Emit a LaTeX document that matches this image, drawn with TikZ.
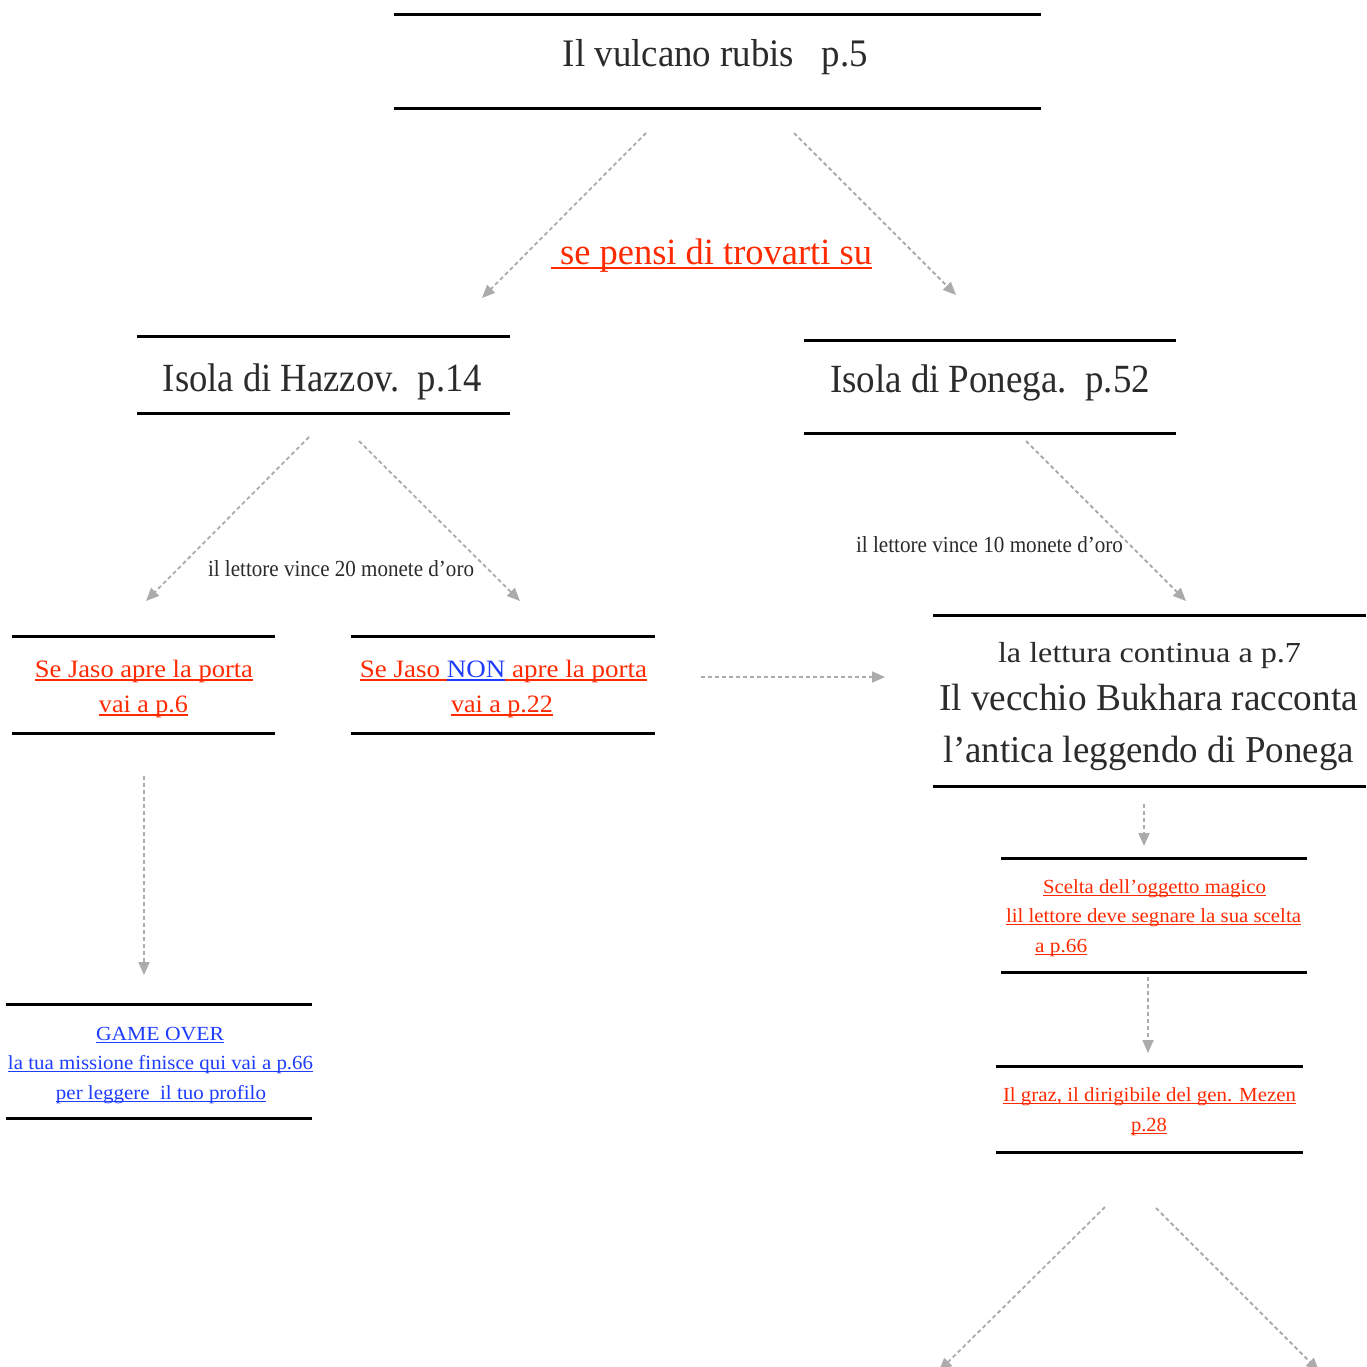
\documentclass[tikz,border=0pt]{standalone}
\usepackage{fontspec}
\setmainfont{Liberation Serif}
\usepackage{graphicx}
\usetikzlibrary{arrows.meta}
\definecolor{txtgray}{HTML}{2B2B2B}
\definecolor{linkred}{HTML}{FF2A00}
\definecolor{linkblue}{HTML}{1F3DFF}
\definecolor{arrgray}{HTML}{ABABAB}
\newcommand\fitw[2]{\resizebox{#1pt}{\height}{#2}}
\newcommand\ulx[1]{{\setbox0\hbox{#1}\leavevmode\rlap{\vrule width\wd0 height -0.09em depth 0.14em}\box0}}
\begin{document}
\begin{tikzpicture}[x=1pt,y=-1pt,
  rulestyle/.style={line width=3pt, black},
  band/.style={rectangle, inner sep=0pt, append after command={
      (\tikzlastnode.north west) edge[rulestyle] (\tikzlastnode.north east)
      (\tikzlastnode.south west) edge[rulestyle] (\tikzlastnode.south east)}},
  txt/.style={anchor=base, inner sep=0pt, text=txtgray},
  redtxt/.style={anchor=base, inner sep=0pt, text=linkred},
  bluetxt/.style={anchor=base, inner sep=0pt, text=linkblue},
  conn/.style={draw=arrgray, line width=1.8pt, dash pattern=on 4pt off 3pt,
      -{Triangle[length=13pt,width=11pt,fill=arrgray]}}]
\fill[white] (0,0) rectangle (1366,1367);
\useasboundingbox (0,0) rectangle (1366,1367);

% bands
\node[band, minimum width=647pt, minimum height=93pt] (title) at (717.5,61.5) {};
\node[band, minimum width=373pt, minimum height=76pt] (hazzov) at (323.5,375) {};
\node[band, minimum width=372pt, minimum height=92pt] (ponega) at (990,387) {};
\node[band, minimum width=263pt, minimum height=96pt] (sejaso) at (143.5,685) {};
\node[band, minimum width=304pt, minimum height=96pt] (non) at (503,685) {};
\node[band, minimum width=433pt, minimum height=170pt] (bukhara) at (1149.5,701) {};
\node[band, minimum width=306pt, minimum height=113pt] (scelta) at (1154,915.5) {};
\node[band, minimum width=307pt, minimum height=85pt] (graz) at (1149.5,1109.5) {};
\node[band, minimum width=306pt, minimum height=113pt] (gameover) at (159,1061.5) {};

% texts
\node[txt, font=\fontsize{39}{47}\selectfont] (titletxt) at (715.5,67) {\fitw{305}{Il vulcano rubis\ \ \ p.5}};
\node[redtxt, font=\fontsize{37}{45}\selectfont] (question) at (711.5,264) {\fitw{321}{\ulx{~se pensi di trovarti su}}};
\node[txt, font=\fontsize{40}{48}\selectfont] (hazzovtxt) at (322.5,391) {\fitw{319}{Isola di Hazzov.\ \ p.14}};
\node[txt, font=\fontsize{40}{48}\selectfont] (ponegatxt) at (990,392) {\fitw{320}{Isola di Ponega.\ \ p.52}};
\node[txt, font=\fontsize{23}{28}\selectfont] (gold20) at (341,576) {\fitw{266}{il lettore vince 20 monete d’oro}};
\node[txt, font=\fontsize{23}{28}\selectfont] (gold10) at (989.5,552) {\fitw{267}{il lettore vince 10 monete d’oro}};

\node[redtxt, font=\fontsize{25}{30}\selectfont] (sejaso1) at (144,677) {\fitw{218}{\ulx{Se Jaso apre la porta}}};
\node[redtxt, font=\fontsize{25}{30}\selectfont] (sejaso2) at (143.5,712) {\fitw{89}{\ulx{vai a p.6}}};
\node[redtxt, font=\fontsize{25}{30}\selectfont] (non1) at (503.5,677) {\fitw{287}{{\color{linkred}\ulx{Se Jaso }}{\color{linkblue}\ulx{NON}}{\color{linkred}\ulx{ apre la porta}}}};
\node[redtxt, font=\fontsize{25}{30}\selectfont] (non2) at (502,712) {\fitw{102}{\ulx{vai a p.22}}};

\node[txt, font=\fontsize{29}{35}\selectfont] (buk1) at (1149.5,662) {\fitw{303}{la lettura continua a p.7}};
\node[txt, font=\fontsize{38}{46}\selectfont] (buk2) at (1148.5,710) {\fitw{419}{Il vecchio Bukhara racconta}};
\node[txt, font=\fontsize{38}{46}\selectfont] (buk3) at (1148.5,762) {\fitw{411}{l’antica leggendo di Ponega}};

\node[redtxt, font=\fontsize{20}{24}\selectfont] (scelta1) at (1154.5,893) {\fitw{223}{\ulx{Scelta dell’oggetto magico}}};
\node[redtxt, font=\fontsize{20}{24}\selectfont] (scelta2) at (1153.5,922) {\fitw{295}{\ulx{lil lettore deve segnare la sua scelta}}};
\node[redtxt, font=\fontsize{20}{24}\selectfont, anchor=base west] (scelta3) at (1035,952) {\fitw{52}{\ulx{a p.66}}};

\node[redtxt, font=\fontsize{20}{24}\selectfont] (graz1) at (1149.5,1101) {\fitw{293}{\ulx{Il graz, il dirigibile del gen. Mezen}}};
\node[redtxt, font=\fontsize{20}{24}\selectfont] (graz2) at (1149,1131) {\fitw{36}{\ulx{p.28}}};

\node[bluetxt, font=\fontsize{20}{24}\selectfont] (go1) at (160,1040) {\fitw{128}{\ulx{GAME OVER}}};
\node[bluetxt, font=\fontsize{20}{24}\selectfont] (go2) at (160.5,1069) {\fitw{305}{\ulx{la tua missione finisce qui vai a p.66}}};
\node[bluetxt, font=\fontsize{20}{24}\selectfont] (go3) at (161,1099) {\fitw{210}{\ulx{per leggere\ \ il tuo profilo}}};

% connector end points
\coordinate (a1s) at (646,133);   \coordinate (a1e) at (482,298);
\coordinate (a2s) at (794,133);   \coordinate (a2e) at (956,295);
\coordinate (a3s) at (309,437);   \coordinate (a3e) at (146,601);
\coordinate (a4s) at (359,441);   \coordinate (a4e) at (520,601);
\coordinate (a5s) at (1026,441);  \coordinate (a5e) at (1186,601);
\coordinate (a6s) at (701,677);   \coordinate (a6e) at (885,677);
\coordinate (a7s) at (144,776);   \coordinate (a7e) at (144,975);
\coordinate (a8s) at (1144,804);  \coordinate (a8e) at (1144,846);
\coordinate (a9s) at (1148,977);  \coordinate (a9e) at (1148,1053);
\coordinate (a10s) at (1105,1207); \coordinate (a10e) at (939,1371);
\coordinate (a11s) at (1156,1208); \coordinate (a11e) at (1319,1371);

\draw[conn] (a1s) -- (a1e);
\draw[conn] (a2s) -- (a2e);
\draw[conn] (a3s) -- (a3e);
\draw[conn] (a4s) -- (a4e);
\draw[conn] (a5s) -- (a5e);
\draw[conn] (a6s) -- (a6e);
\draw[conn] (a7s) -- (a7e);
\draw[conn] (a8s) -- (a8e);
\draw[conn] (a9s) -- (a9e);
\draw[conn] (a10s) -- (a10e);
\draw[conn] (a11s) -- (a11e);
\end{tikzpicture}
\end{document}
